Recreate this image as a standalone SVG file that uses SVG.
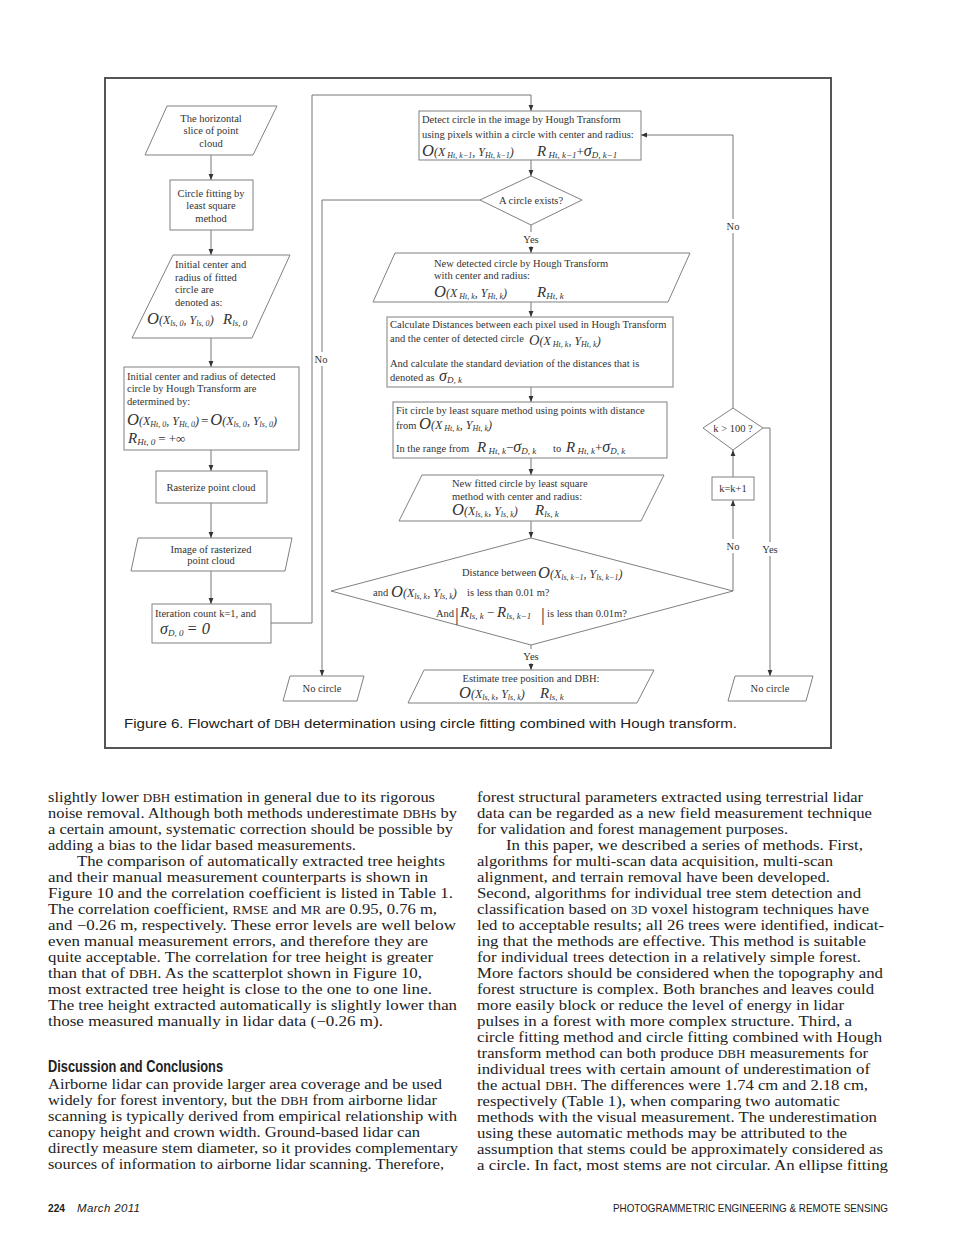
<svg xmlns="http://www.w3.org/2000/svg" width="960" height="1246" viewBox="0 0 960 1246">
<style>
.frame{fill:none;stroke:#555;stroke-width:2}
.box{fill:#fff;stroke:#808080;stroke-width:1}
.ln{fill:none;stroke:#777;stroke-width:1}
.t{font-family:"Liberation Serif","Times New Roman",serif;font-size:10.5px;fill:#333}
.c{text-anchor:middle}
.fO{font-style:italic;font-size:16.5px}
.fO2{font-style:italic;font-size:14.5px}
.fX{font-style:italic;font-size:12px}
.fs{font-style:italic;font-size:8px}
.fR{font-style:italic;font-size:15px}
.fg{font-style:italic;font-size:16px}
.fs2{font-style:italic;font-size:9px}
.fp{font-size:13px}
.bar{font-size:19px}
.lbg{fill:#fff}
.b{font-family:"Liberation Serif","Times New Roman",serif;font-size:14.5px;fill:#222}
.sc{font-size:11.5px}
.cap{font-family:"Liberation Sans",Arial,sans-serif;font-size:13px;fill:#222}
.h{font-family:"Liberation Sans",Arial,sans-serif;font-size:16px;font-weight:bold;fill:#222}
.ft{font-family:"Liberation Sans",Arial,sans-serif;font-size:11.5px;fill:#222}
</style>
<defs>
<marker id="ah" viewBox="0 0 10 10" refX="10" refY="5" markerWidth="6" markerHeight="6" orient="auto" markerUnits="userSpaceOnUse"><path d="M0,1 L10,5 L0,9 z" fill="#333"/></marker>
</defs>
<rect width="960" height="1246" fill="#fff"/>
<rect class="frame" x="105" y="78" width="726" height="670"/>

<g id="connectors">
<path class="ln" d="M211,155 V180" marker-end="url(#ah)"/>
<path class="ln" d="M211,230 V255" marker-end="url(#ah)"/>
<path class="ln" d="M211,338 V367" marker-end="url(#ah)"/>
<path class="ln" d="M211,450 V471" marker-end="url(#ah)"/>
<path class="ln" d="M211,503 V538" marker-end="url(#ah)"/>
<path class="ln" d="M211,571 V604" marker-end="url(#ah)"/>
<path class="ln" d="M271,623 H312 V95 H531 V111" marker-end="url(#ah)"/>
<path class="ln" d="M531,160 V176" marker-end="url(#ah)"/>
<path class="ln" d="M480,200 H322 V676" marker-end="url(#ah)"/>
<path class="ln" d="M531,225 V253" marker-end="url(#ah)"/>
<path class="ln" d="M531,302 V317" marker-end="url(#ah)"/>
<path class="ln" d="M531,387 V402" marker-end="url(#ah)"/>
<path class="ln" d="M531,458 V475" marker-end="url(#ah)"/>
<path class="ln" d="M531,521 V538" marker-end="url(#ah)"/>
<path class="ln" d="M531,645 V670" marker-end="url(#ah)"/>
<path class="ln" d="M733,591 V500" marker-end="url(#ah)"/>
<path class="ln" d="M733,477 V450" marker-end="url(#ah)"/>
<path class="ln" d="M733,408 V135 H641" marker-end="url(#ah)"/>
<path class="ln" d="M763,428 H770 V676" marker-end="url(#ah)"/>
<rect class="lbg" x="313" y="352" width="18" height="14"/>
<text class="t c" x="321" y="362.5">No</text>
<rect class="lbg" x="724" y="219" width="18" height="14"/>
<text class="t c" x="733" y="229.5">No</text>
<rect class="lbg" x="724" y="539" width="18" height="14"/>
<text class="t c" x="733" y="549.5">No</text>
<rect class="lbg" x="759" y="542" width="22" height="14"/>
<text class="t c" x="770" y="552.5">Yes</text>
<rect class="lbg" x="520" y="232" width="22" height="14"/>
<text class="t c" x="531" y="242.5">Yes</text>
<rect class="lbg" x="520" y="649" width="22" height="14"/>
<text class="t c" x="531" y="659.5">Yes</text>
</g>

<g id="n-slice">
<polygon class="box" points="167,106 277,106 253,155 145,155"/>
<text class="t c" x="211" y="121.5">The horizontal</text>
<text class="t c" x="211" y="133.5">slice of point</text>
<text class="t c" x="211" y="146.5">cloud</text>
</g>

<g id="n-circlefit">
<rect class="box" x="170" y="180" width="83" height="50"/>
<text class="t c" x="211" y="196.5">Circle fitting by</text>
<text class="t c" x="211" y="208.5">least square</text>
<text class="t c" x="211" y="221.5">method</text>
</g>

<g id="n-initfit">
<polygon class="box" points="173,255 290,255 252,338 132,338"/>
<text class="t" x="175" y="267.5">Initial center and</text>
<text class="t" x="175" y="280.5">radius of fitted</text>
<text class="t" x="175" y="292.5">circle are</text>
<text class="t" x="175" y="305.5">denoted as:</text>
<text class="t" x="147" y="324"><tspan class="fO">O</tspan><tspan class="fX">(X</tspan><tspan class="fs" dy="2">ls, 0</tspan><tspan class="fX" dy="-2">, Y</tspan><tspan class="fs" dy="2">ls, 0</tspan><tspan class="fX" dy="-2">)</tspan></text>
<text class="t" x="223" y="324"><tspan class="fR">R</tspan><tspan class="fs2" dy="2">ls, 0</tspan></text>
</g>

<g id="n-inithough">
<rect class="box" x="124" y="367" width="175" height="83"/>
<text class="t" x="127" y="379.5">Initial center and radius of detected</text>
<text class="t" x="127" y="392">circle by Hough Transform are</text>
<text class="t" x="127" y="405">determined by:</text>
<text class="t" x="127" y="425"><tspan class="fO">O</tspan><tspan class="fX">(X</tspan><tspan class="fs" dy="2">Ht, 0</tspan><tspan class="fX" dy="-2">, Y</tspan><tspan class="fs" dy="2">Ht, 0</tspan><tspan class="fX" dy="-2">)</tspan><tspan class="fp" dx="2">=</tspan><tspan class="fO" dx="2">O</tspan><tspan class="fX">(X</tspan><tspan class="fs" dy="2">ls, 0</tspan><tspan class="fX" dy="-2">, Y</tspan><tspan class="fs" dy="2">ls, 0</tspan><tspan class="fX" dy="-2">)</tspan></text>
<text class="t" x="128" y="443"><tspan class="fR">R</tspan><tspan class="fs2" dy="2">Ht, 0</tspan><tspan class="fp" dy="-2" dx="3">= +∞</tspan></text>
</g>

<g id="n-rasterize">
<rect class="box" x="156" y="471" width="111" height="32"/>
<text class="t c" x="211" y="490.5">Rasterize point cloud</text>
</g>

<g id="n-image">
<polygon class="box" points="138,538 292,538 285,571 131,571"/>
<text class="t c" x="211" y="552.5">Image of rasterized</text>
<text class="t c" x="211" y="564">point cloud</text>
</g>

<g id="n-iter">
<rect class="box" x="152" y="604" width="119" height="39"/>
<text class="t" x="155" y="616.5">Iteration count k=1, and</text>
<text class="t" x="160" y="634"><tspan class="fg">σ</tspan><tspan class="fs2" dy="2">D, 0</tspan><tspan class="fO" dy="-2" dx="3">= 0</tspan></text>
</g>

<g id="n-detect">
<rect class="box" x="419" y="111" width="222" height="49"/>
<text class="t" x="422" y="122.5">Detect circle in the image by Hough Transform</text>
<text class="t" x="422" y="138">using pixels within a circle with center and radius:</text>
<text class="t" x="422" y="156"><tspan class="fO">O</tspan><tspan class="fX">(X</tspan><tspan class="fs" dy="2"> Ht, k−1</tspan><tspan class="fX" dy="-2">, Y</tspan><tspan class="fs" dy="2">Ht, k−1</tspan><tspan class="fX" dy="-2">)</tspan></text>
<text class="t" x="537" y="156"><tspan class="fR">R</tspan><tspan class="fs2" dy="2"> Ht, k−1</tspan><tspan class="fp" dy="-2">+</tspan><tspan class="fg">σ</tspan><tspan class="fs2" dy="2">D, k−1</tspan></text>
</g>

<g id="n-exists">
<polygon class="box" points="531,176 582,200 531,225 480,200"/>
<text class="t c" x="531" y="203.5">A circle exists?</text>
</g>

<g id="n-newdetected">
<polygon class="box" points="395,253 690,253 668,302 373,302"/>
<text class="t" x="434" y="266.5">New detected circle by Hough Transform</text>
<text class="t" x="434" y="278.5">with center and radius:</text>
<text class="t" x="434" y="297"><tspan class="fO">O</tspan><tspan class="fX">(X</tspan><tspan class="fs" dy="2"> Ht, k</tspan><tspan class="fX" dy="-2">, Y</tspan><tspan class="fs" dy="2">Ht, k</tspan><tspan class="fX" dy="-2">)</tspan></text>
<text class="t" x="537" y="297"><tspan class="fR">R</tspan><tspan class="fs2" dy="2">Ht, k</tspan></text>
</g>

<g id="n-calc">
<rect class="box" x="387" y="317" width="286" height="70"/>
<text class="t" x="390" y="328">Calculate Distances between each pixel used in Hough Transform</text>
<text class="t" x="390" y="341.5">and the center of detected circle</text>
<text class="t" x="529" y="345"><tspan class="fO2">O</tspan><tspan class="fX">(X</tspan><tspan class="fs" dy="2"> Ht, k</tspan><tspan class="fX" dy="-2">, Y</tspan><tspan class="fs" dy="2">Ht, k</tspan><tspan class="fX" dy="-2">)</tspan></text>
<text class="t" x="390" y="366.5">And calculate the standard deviation of the distances that is</text>
<text class="t" x="390" y="380.5">denoted as</text>
<text class="t" x="439" y="381"><tspan class="fg">σ</tspan><tspan class="fs2" dy="2">D, k</tspan></text>
</g>

<g id="n-fit">
<rect class="box" x="393" y="402" width="274" height="56"/>
<text class="t" x="396" y="413.5">Fit circle by least square method using points with distance</text>
<text class="t" x="396" y="428.5">from</text>
<text class="t" x="419" y="429"><tspan class="fO">O</tspan><tspan class="fX">(X</tspan><tspan class="fs" dy="2"> Ht, k</tspan><tspan class="fX" dy="-2">, Y</tspan><tspan class="fs" dy="2">Ht, k</tspan><tspan class="fX" dy="-2">)</tspan></text>
<text class="t" x="396" y="451.5">In the range from</text>
<text class="t" x="477" y="451.5"><tspan class="fR">R</tspan><tspan class="fs2" dy="2"> Ht, k</tspan><tspan class="fp" dy="-2">−</tspan><tspan class="fg">σ</tspan><tspan class="fs2" dy="2">D, k</tspan></text>
<text class="t" x="553" y="451.5">to</text>
<text class="t" x="566" y="451.5"><tspan class="fR">R</tspan><tspan class="fs2" dy="2"> Ht, k</tspan><tspan class="fp" dy="-2">+</tspan><tspan class="fg">σ</tspan><tspan class="fs2" dy="2">D, k</tspan></text>
</g>

<g id="n-newfitted">
<polygon class="box" points="422,475 664,475 641,521 399,521"/>
<text class="t" x="452" y="486.5">New fitted circle by least square</text>
<text class="t" x="452" y="499.5">method with center and radius:</text>
<text class="t" x="452" y="515"><tspan class="fO">O</tspan><tspan class="fX">(X</tspan><tspan class="fs" dy="2">ls, k</tspan><tspan class="fX" dy="-2">, Y</tspan><tspan class="fs" dy="2">ls, k</tspan><tspan class="fX" dy="-2">)</tspan></text>
<text class="t" x="535" y="515"><tspan class="fR">R</tspan><tspan class="fs2" dy="2">ls, k</tspan></text>
</g>

<g id="n-converge">
<polygon class="box" points="531,538 733,591 531,645 331,591"/>
<text class="t" x="462" y="576">Distance between</text>
<text class="t" x="538" y="578"><tspan class="fO">O</tspan><tspan class="fX">(X</tspan><tspan class="fs" dy="2">ls, k−1</tspan><tspan class="fX" dy="-2">, Y</tspan><tspan class="fs" dy="2">ls, k−1</tspan><tspan class="fX" dy="-2">)</tspan></text>
<text class="t" x="373" y="596">and</text>
<text class="t" x="391" y="597"><tspan class="fO">O</tspan><tspan class="fX">(X</tspan><tspan class="fs" dy="2">ls, k</tspan><tspan class="fX" dy="-2">, Y</tspan><tspan class="fs" dy="2">ls, k</tspan><tspan class="fX" dy="-2">)</tspan></text>
<text class="t" x="467" y="596">is less than 0.01 m?</text>
<text class="t" x="436" y="617">And</text>
<text class="t bar" x="455" y="621">|</text>
<text class="t" x="460" y="617"><tspan class="fR">R</tspan><tspan class="fs2" dy="2">ls, k</tspan><tspan class="fp" dy="-2" dx="3">−</tspan><tspan class="fR" dx="3">R</tspan><tspan class="fs2" dy="2">ls, k−1</tspan></text>
<text class="t bar" x="541" y="621">|</text>
<text class="t" x="547" y="617">is less than 0.01m?</text>
</g>

<g id="n-estimate">
<polygon class="box" points="424,670 654,670 637,703 408,703"/>
<text class="t c" x="531" y="681.5">Estimate tree position and DBH:</text>
<text class="t" x="459" y="698"><tspan class="fO">O</tspan><tspan class="fX">(X</tspan><tspan class="fs" dy="2">ls, k</tspan><tspan class="fX" dy="-2">, Y</tspan><tspan class="fs" dy="2">ls, k</tspan><tspan class="fX" dy="-2">)</tspan></text>
<text class="t" x="540" y="698"><tspan class="fR">R</tspan><tspan class="fs2" dy="2">ls, k</tspan></text>
</g>

<g id="n-nocircle-left">
<polygon class="box" points="290,676 364,676 357,701 283,701"/>
<text class="t c" x="322" y="691.5">No circle</text>
</g>

<g id="n-nocircle-right">
<polygon class="box" points="735,676 813,676 806,701 728,701"/>
<text class="t c" x="770" y="691.5">No circle</text>
</g>

<g id="n-kcheck">
<polygon class="box" points="733,408 763,428 733,450 703,428"/>
<text class="t c" x="733" y="431.5">k &gt; 100 ?</text>
</g>

<g id="n-kinc">
<rect class="box" x="712" y="477" width="42" height="23"/>
<text class="t c" x="733" y="491.5">k=k+1</text>
</g>

<text class="cap" x="124" y="728" textLength="613" lengthAdjust="spacingAndGlyphs">Figure 6. Flowchart of <tspan font-size="10.5">DBH</tspan> determination using circle fitting combined with Hough transform.</text>

<g id="body-left">
<text class="b" x="48" y="802" textLength="387" lengthAdjust="spacingAndGlyphs">slightly lower <tspan class="sc">DBH</tspan> estimation in general due to its rigorous</text>
<text class="b" x="48" y="818" textLength="409" lengthAdjust="spacingAndGlyphs">noise removal. Although both methods underestimate <tspan class="sc">DBH</tspan>s by</text>
<text class="b" x="48" y="834" textLength="405" lengthAdjust="spacingAndGlyphs">a certain amount, systematic correction should be possible by</text>
<text class="b" x="48" y="850" textLength="308" lengthAdjust="spacingAndGlyphs">adding a bias to the lidar based measurements.</text>
<text class="b" x="77" y="866" textLength="368" lengthAdjust="spacingAndGlyphs">The comparison of automatically extracted tree heights</text>
<text class="b" x="48" y="882" textLength="380" lengthAdjust="spacingAndGlyphs">and their manual measurement counterparts is shown in</text>
<text class="b" x="48" y="898" textLength="405" lengthAdjust="spacingAndGlyphs">Figure 10 and the correlation coefficient is listed in Table 1.</text>
<text class="b" x="48" y="914" textLength="389" lengthAdjust="spacingAndGlyphs">The correlation coefficient, <tspan class="sc">RMSE</tspan> and <tspan class="sc">MR</tspan> are 0.95, 0.76 m,</text>
<text class="b" x="48" y="930" textLength="408" lengthAdjust="spacingAndGlyphs">and −0.26 m, respectively. These error levels are well below</text>
<text class="b" x="48" y="946" textLength="380" lengthAdjust="spacingAndGlyphs">even manual measurement errors, and therefore they are</text>
<text class="b" x="48" y="962" textLength="385" lengthAdjust="spacingAndGlyphs">quite acceptable. The correlation for tree height is greater</text>
<text class="b" x="48" y="978" textLength="374" lengthAdjust="spacingAndGlyphs">than that of <tspan class="sc">DBH</tspan>. As the scatterplot shown in Figure 10,</text>
<text class="b" x="48" y="994" textLength="384" lengthAdjust="spacingAndGlyphs">most extracted tree height is close to the one to one line.</text>
<text class="b" x="48" y="1010" textLength="409" lengthAdjust="spacingAndGlyphs">The tree height extracted automatically is slightly lower than</text>
<text class="b" x="48" y="1026" textLength="335" lengthAdjust="spacingAndGlyphs">those measured manually in lidar data (−0.26 m).</text>
<text class="h" x="48" y="1072" textLength="175" lengthAdjust="spacingAndGlyphs">Discussion and Conclusions</text>
<text class="b" x="48" y="1089" textLength="394" lengthAdjust="spacingAndGlyphs">Airborne lidar can provide larger area coverage and be used</text>
<text class="b" x="48" y="1105" textLength="389" lengthAdjust="spacingAndGlyphs">widely for forest inventory, but the <tspan class="sc">DBH</tspan> from airborne lidar</text>
<text class="b" x="48" y="1121" textLength="409" lengthAdjust="spacingAndGlyphs">scanning is typically derived from empirical relationship with</text>
<text class="b" x="48" y="1137" textLength="372" lengthAdjust="spacingAndGlyphs">canopy height and crown width. Ground-based lidar can</text>
<text class="b" x="48" y="1153" textLength="410" lengthAdjust="spacingAndGlyphs">directly measure stem diameter, so it provides complementary</text>
<text class="b" x="48" y="1169" textLength="396" lengthAdjust="spacingAndGlyphs">sources of information to airborne lidar scanning. Therefore,</text>
</g>

<g id="body-right">
<text class="b" x="477" y="802" textLength="386" lengthAdjust="spacingAndGlyphs">forest structural parameters extracted using terrestrial lidar</text>
<text class="b" x="477" y="818" textLength="395" lengthAdjust="spacingAndGlyphs">data can be regarded as a new field measurement technique</text>
<text class="b" x="477" y="834" textLength="311" lengthAdjust="spacingAndGlyphs">for validation and forest management purposes.</text>
<text class="b" x="506" y="850" textLength="357" lengthAdjust="spacingAndGlyphs">In this paper, we described a series of methods. First,</text>
<text class="b" x="477" y="866" textLength="356" lengthAdjust="spacingAndGlyphs">algorithms for multi-scan data acquisition, multi-scan</text>
<text class="b" x="477" y="882" textLength="353" lengthAdjust="spacingAndGlyphs">alignment, and terrain removal have been developed.</text>
<text class="b" x="477" y="898" textLength="384" lengthAdjust="spacingAndGlyphs">Second, algorithms for individual tree stem detection and</text>
<text class="b" x="477" y="914" textLength="392" lengthAdjust="spacingAndGlyphs">classification based on <tspan class="sc">3D</tspan> voxel histogram techniques have</text>
<text class="b" x="477" y="930" textLength="407" lengthAdjust="spacingAndGlyphs">led to acceptable results; all 26 trees were identified, indicat-</text>
<text class="b" x="477" y="946" textLength="389" lengthAdjust="spacingAndGlyphs">ing that the methods are effective. This method is suitable</text>
<text class="b" x="477" y="962" textLength="384" lengthAdjust="spacingAndGlyphs">for individual trees detection in a relatively simple forest.</text>
<text class="b" x="477" y="978" textLength="406" lengthAdjust="spacingAndGlyphs">More factors should be considered when the topography and</text>
<text class="b" x="477" y="994" textLength="397" lengthAdjust="spacingAndGlyphs">forest structure is complex. Both branches and leaves could</text>
<text class="b" x="477" y="1010" textLength="367" lengthAdjust="spacingAndGlyphs">more easily block or reduce the level of energy in lidar</text>
<text class="b" x="477" y="1026" textLength="375" lengthAdjust="spacingAndGlyphs">pulses in a forest with more complex structure. Third, a</text>
<text class="b" x="477" y="1042" textLength="405" lengthAdjust="spacingAndGlyphs">circle fitting method and circle fitting combined with Hough</text>
<text class="b" x="477" y="1058" textLength="391" lengthAdjust="spacingAndGlyphs">transform method can both produce <tspan class="sc">DBH</tspan> measurements for</text>
<text class="b" x="477" y="1074" textLength="393" lengthAdjust="spacingAndGlyphs">individual trees with certain amount of underestimation of</text>
<text class="b" x="477" y="1090" textLength="391" lengthAdjust="spacingAndGlyphs">the actual <tspan class="sc">DBH</tspan>. The differences were 1.74 cm and 2.18 cm,</text>
<text class="b" x="477" y="1106" textLength="363" lengthAdjust="spacingAndGlyphs">respectively (Table 1), when comparing two automatic</text>
<text class="b" x="477" y="1122" textLength="400" lengthAdjust="spacingAndGlyphs">methods with the visual measurement. The underestimation</text>
<text class="b" x="477" y="1138" textLength="370" lengthAdjust="spacingAndGlyphs">using these automatic methods may be attributed to the</text>
<text class="b" x="477" y="1154" textLength="406" lengthAdjust="spacingAndGlyphs">assumption that stems could be approximately considered as</text>
<text class="b" x="477" y="1170" textLength="411" lengthAdjust="spacingAndGlyphs">a circle. In fact, most stems are not circular. An ellipse fitting</text>
</g>

<g id="footer">
<text class="ft" x="48" y="1212" font-weight="bold" textLength="17" lengthAdjust="spacingAndGlyphs">224</text>
<text class="ft" x="77" y="1212" font-style="italic" fill="#777" font-size="10.5" textLength="63" lengthAdjust="spacing">March 2011</text>
<text class="ft" x="613" y="1212" textLength="275" lengthAdjust="spacingAndGlyphs">PHOTOGRAMMETRIC ENGINEERING &amp; REMOTE SENSING</text>
</g>
</svg>
